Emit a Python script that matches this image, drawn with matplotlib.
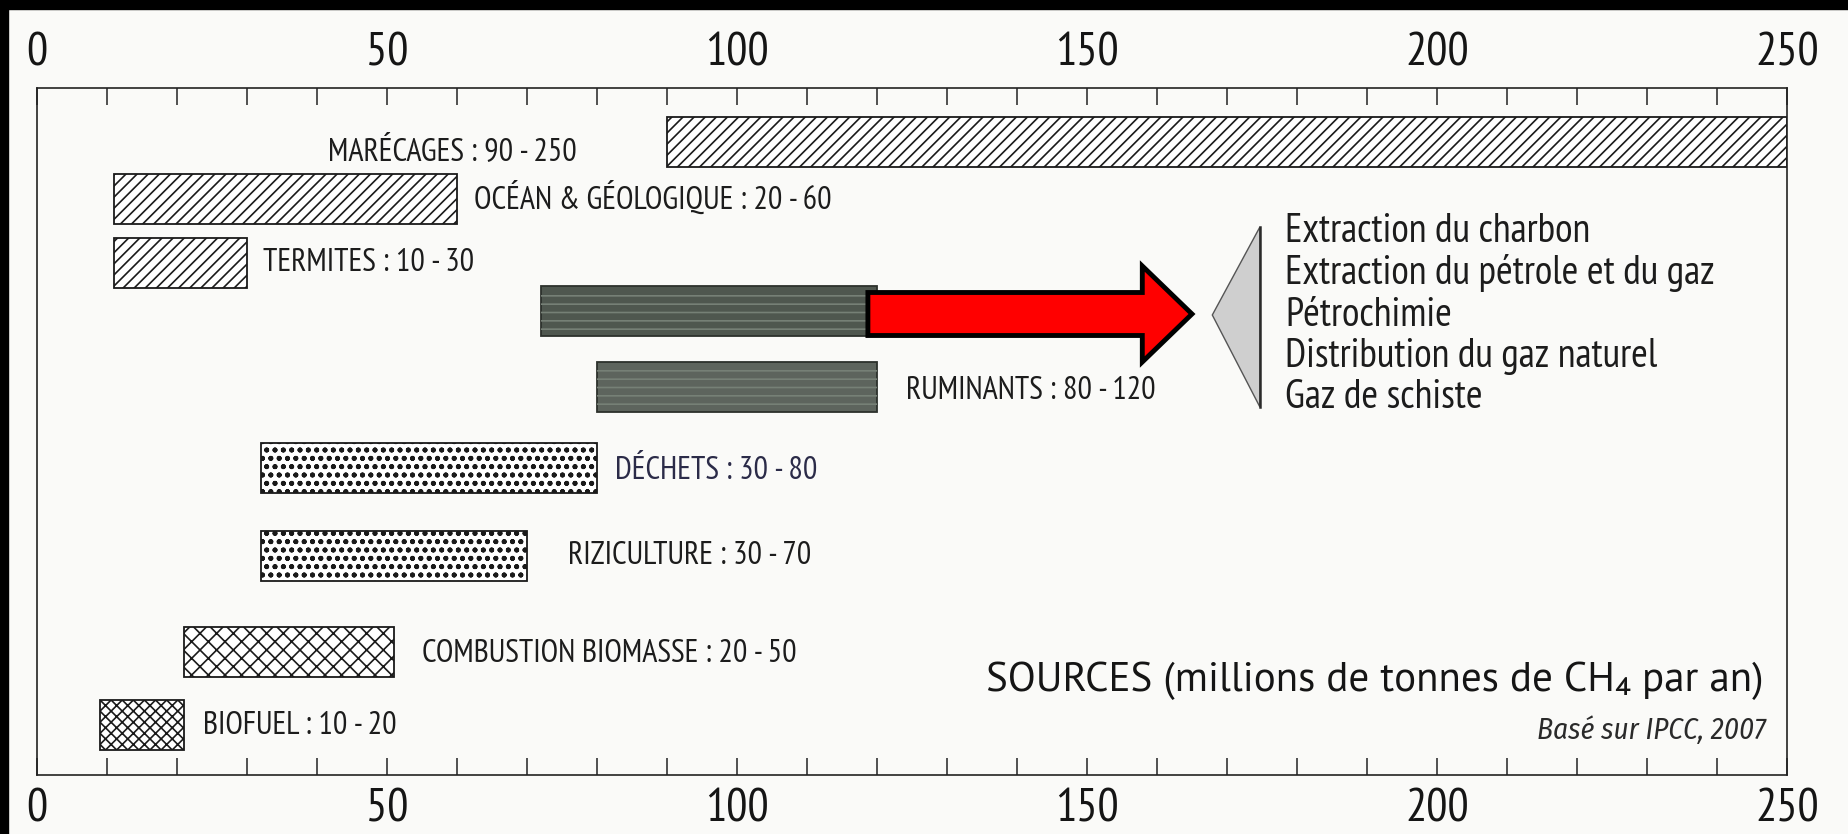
import numpy as np
import matplotlib.pyplot as plt
import matplotlib.patches as mpatches

narrow = ['PT Sans Narrow', 'DejaVu Sans']
plt.rcParams['font.family'] = narrow
plt.rcParams['hatch.linewidth'] = 1.2

# ---- data (millions de tonnes de CH4 par an) ----
sources = ["MARÉCAGES", "OCÉAN & GÉOLOGIQUE", "TERMITES", "FOSSILE", "RUMINANTS",
           "DÉCHETS", "RIZICULTURE", "COMBUSTION BIOMASSE", "BIOFUEL"]
range_lo = [90, 20, 10, None, 80, 30, 30, 20, 10]
range_hi = [250, 60, 30, None, 120, 80, 70, 50, 20]
bar_lo = [90, 11, 11, 72, 80, 32, 32, 21, 9]      # extents as drawn
bar_hi = [250, 60, 30, 120, 120, 80, 70, 51, 21]
fossil_items = ["Extraction du charbon", "Extraction du pétrole et du gaz", "Pétrochimie",
                "Distribution du gaz naturel", "Gaz de schiste"]
xticks = [0, 50, 100, 150, 200, 250]

# ---- layout / style ----
W, H = 1849, 834
x0, x1 = 37, 1787          # px of 0 and 250
y_top, y_bot = 88, 775     # px of frame
row_y = [142, 199, 263, 311, 387, 468, 556, 652, 725]
bar_h = 50
label_dx = [-12.9, 2.4, 2.3, None, 4.1, 2.6, 5.9, 4.0, 2.7]
label_dy = [10, 0, 0, 0, 4, 3, 0, 2, 1]
faces = ['white', 'white', 'white', '#4f574f', '#5d645d', 'white', 'white', 'white', 'white']
edges = ['#1a1a1a', '#1a1a1a', '#1a1a1a', '#2c312c', '#2c312c', '#1a1a1a', '#1a1a1a', '#1a1a1a', '#1a1a1a']
hatches = ['///', '///', '///', None, None, 'oo..', 'oo..', 'xx', 'xxx']
txt_col = ['#1c1c1c'] * 9
txt_col[5] = '#2b2b48'
bg = '#fafaf8'

fig = plt.figure(figsize=(W/100, H/100), dpi=100, facecolor=bg)
ax = fig.add_axes([x0/W, 1-y_bot/H, (x1-x0)/W, (y_bot-y_top)/H], facecolor=bg)
ax.set_xlim(0, 250)
ax.set_ylim(y_bot, y_top)

for i in range(len(sources)):
    ax.barh(row_y[i], bar_hi[i]-bar_lo[i], left=bar_lo[i], height=bar_h,
            color=faces[i], edgecolor=edges[i], hatch=hatches[i], linewidth=1.3, zorder=2)
    if faces[i] != 'white':
        # streaky texture of the scanned grey bars
        ax.barh(row_y[i], bar_hi[i]-bar_lo[i], left=bar_lo[i], height=bar_h-6,
                color='none', edgecolor='#768076', hatch='--', linewidth=0, zorder=3)
    if range_lo[i] is None:
        continue
    lab = f"{sources[i]} : {range_lo[i]} - {range_hi[i]}"
    if label_dx[i] < 0:
        ax.text(bar_lo[i]+label_dx[i], row_y[i]+label_dy[i], lab, ha='right', va='center',
                fontsize=23, color=txt_col[i])
    else:
        ax.text(bar_hi[i]+label_dx[i], row_y[i]+label_dy[i], lab, ha='left', va='center',
                fontsize=23, color=txt_col[i])

# red arrow from the fossil bar to the list
fi = sources.index("FOSSILE")
arrow = mpatches.FancyArrow(bar_hi[fi]-1.3, 314, 46.3, 0, width=43, head_width=96,
                            head_length=7.1, length_includes_head=True, facecolor='#ff0000',
                            edgecolor='black', linewidth=3.5, joinstyle='miter', zorder=5)
ax.add_patch(arrow)

# grey brace-triangle
tri = mpatches.Polygon([[167.9, 315], [174.7, 227], [174.7, 407]], closed=True,
                       facecolor='#cfcfcf', edgecolor='#555555', linewidth=1.0, zorder=4)
ax.add_patch(tri)
ax.plot([174.7, 174.7], [227, 407], color='#2a2a2a', linewidth=1.8, zorder=5)
for k, item in enumerate(fossil_items):
    ax.text(178.3, 232 + 41.5*k, item, ha='left', va='center', fontsize=29, color='#1c1c1c')

ax.text(246.7, 681, "SOURCES (millions de tonnes de CH\u2084 par an)", ha='right', va='center',
        fontsize=29.5, color='#151515', family=['PT Sans', 'DejaVu Sans'])
ax.text(247, 731, "Basé sur IPCC, 2007", ha='right', va='center', fontsize=21,
        style='italic', color='#2a2a2a', family=['Fira Sans Condensed', 'DejaVu Sans'])

# axes: ticks inside, labels top and bottom
ax.set_xticks(xticks)
ax.set_xticks(np.arange(10, 250, 10), minor=True)
ax.tick_params(axis='x', which='both', direction='in', top=True, bottom=True,
               length=12, width=1.1, color='#222222')
ax.tick_params(axis='x', which='major', labeltop=True, labelbottom=True,
               labelsize=34, pad=10, labelcolor='#151515')
ax.set_yticks([])
for s in ax.spines.values():
    s.set_linewidth(1.2)
    s.set_color('#222222')

# scan borders
fig.add_artist(mpatches.Rectangle((0, 1-9/H), 1, 9/H, transform=fig.transFigure,
                                  color='black', zorder=10))
fig.add_artist(mpatches.Rectangle((0, 0), 8/W, 1, transform=fig.transFigure,
                                  color='black', zorder=10))

fig.savefig("out.png", dpi=100, facecolor=bg)
